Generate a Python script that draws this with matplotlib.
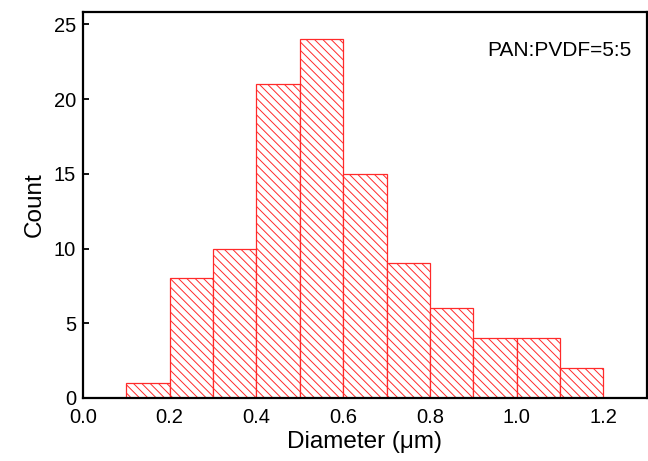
import matplotlib
matplotlib.use("Agg")
import matplotlib.pyplot as plt
import numpy as np

plt.rcParams['font.family'] = ['Liberation Sans', 'DejaVu Sans']
plt.rcParams['hatch.linewidth'] = 0.7
plt.rcParams['hatch.color'] = '#ff3030'

# Fiber diameter histogram (bin edges in µm, counts per bin)
bin_edges = [0.1, 0.2, 0.3, 0.4, 0.5, 0.6, 0.7, 0.8, 0.9, 1.0, 1.1, 1.2]
counts = [1, 8, 10, 21, 24, 15, 9, 6, 4, 4, 2]
x_ticks = [0.0, 0.2, 0.4, 0.6, 0.8, 1.0, 1.2]
y_ticks = [0, 5, 10, 15, 20, 25]
sample_label = "PAN:PVDF=5:5"

fig = plt.figure(figsize=(6.48, 4.61), dpi=100)
ax = fig.add_axes([0.128, 0.1367, 0.87, 0.838])

lefts = np.array(bin_edges[:-1])
widths = np.diff(bin_edges)
ax.bar(lefts, counts, width=widths, align='edge', facecolor='white',
       edgecolor='#ff2a2a', linewidth=0.9, hatch='\\\\\\\\', zorder=2)

ax.set_xlim(0, 1.3)
ax.set_ylim(0, 25.85)
ax.set_xticks(x_ticks)
ax.set_xticklabels([f"{t:.1f}" for t in x_ticks])
ax.set_yticks(y_ticks)

for s in ax.spines.values():
    s.set_linewidth(1.6)
    s.set_zorder(3)
ax.tick_params(direction='in', length=4, width=1.3, labelsize=14.5)
ax.tick_params(axis='x', pad=7)
ax.tick_params(axis='y', pad=5)

ax.set_xlabel("Diameter (\u03bcm)", fontsize=17.5, labelpad=3)
ax.set_ylabel("Count", fontsize=17.5, labelpad=6)

ax.text(0.973, 0.90, sample_label, transform=ax.transAxes, ha='right',
        va='center', fontsize=15)

fig.savefig("out.png", dpi=100)
